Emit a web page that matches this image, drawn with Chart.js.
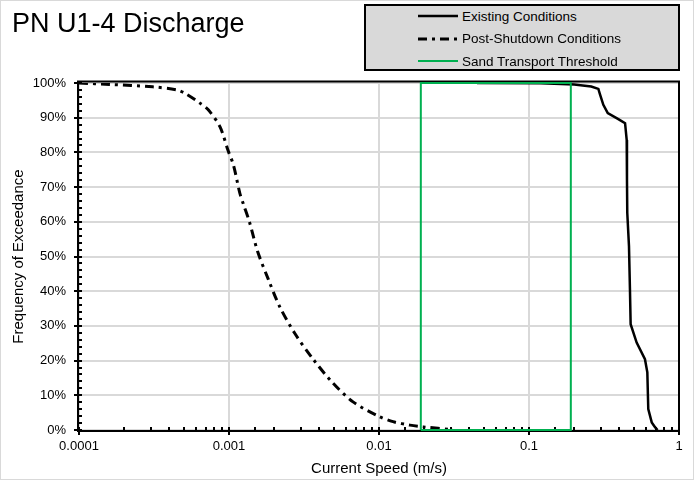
<!DOCTYPE html>
<html lang="en">
<head>
  <meta charset="UTF-8" />
  <title>PN U1-4 Discharge</title>
  <style>
    html, body {
      margin: 0;
      padding: 0;
      background: white;
      font-family: "Liberation Sans", Arial, sans-serif;
    }
    #wrap {
      position: relative;
      width: 694px;
      height: 480px;
    }
    #chart {
      position: absolute;
      left: 0;
      top: 0;
    }
    #frame {
      position: absolute;
      left: 0;
      top: 0;
      width: 694px;
      height: 480px;
      box-sizing: border-box;
      border: 1px solid #d9d9d9;
      pointer-events: none;
    }
    #title {
      position: absolute;
      left: 12px;
      top: 10px;
      font-size: 27px;
      line-height: 27px;
      color: #000;
      white-space: nowrap;
    }
    #legend {
      position: absolute;
      left: 364px;
      top: 4px;
      width: 316px;
      height: 67px;
      box-sizing: border-box;
      background: #d9d9d9;
      border: 2px solid #000;
    }
    #legend .row {
      position: absolute;
      left: 52px;
      height: 22px;
      display: flex;
      align-items: center;
      font-size: 13.5px;
      color: #000;
      white-space: nowrap;
    }
    #legend svg {
      margin-right: 4px;
    }
  </style>
  <script src="https://cdn.jsdelivr.net/npm/chart.js"></script>
</head>
<body>
  <div id="wrap">
    <canvas id="chart" width="694" height="480"></canvas>
    <div id="title">PN U1-4 Discharge</div>
    <div id="legend">
      <div class="row" style="top:-1px">
        <svg width="40" height="6"><line x1="0" y1="3" x2="40" y2="3" stroke="#000" stroke-width="2.5" /></svg>
        Existing Conditions
      </div>
      <div class="row" style="top:21.5px">
        <svg width="40" height="6"><line x1="0" y1="3" x2="40" y2="3" stroke="#000" stroke-width="3" stroke-dasharray="9,5,3,5" /></svg>
        Post-Shutdown Conditions
      </div>
      <div class="row" style="top:44px">
        <svg width="40" height="6"><line x1="0" y1="3" x2="40" y2="3" stroke="#00b050" stroke-width="2" /></svg>
        Sand Transport Threshold
      </div>
    </div>
    <div id="frame"></div>
  </div>

  <script>
    // speeds in m/s, frequency of exceedance in %
    const existingSpeed = [0.045, 0.12, 0.2, 0.26, 0.29, 0.297, 0.313, 0.335, 0.394, 0.437, 0.448, 0.45, 0.452, 0.464, 0.471, 0.476, 0.522, 0.593, 0.615, 0.624, 0.658, 0.692, 0.72];
    const existingFreq  = [100, 99.9, 99.6, 99.0, 98.3, 96.8, 93.7, 91.3, 89.6, 88.4, 83.6, 72, 62.6, 53, 40.5, 30.5, 25.2, 20.4, 16.6, 6, 2.2, 0.8, 0];

    const postSpeed = [0.0001, 0.00016, 0.00031, 0.00045, 0.00051, 0.00064, 0.00073, 0.00087, 0.00099, 0.00107, 0.00118, 0.00124, 0.00137, 0.00155, 0.00183, 0.00218, 0.00275, 0.00361, 0.00484, 0.00671, 0.01, 0.0124, 0.0161, 0.0197, 0.031];
    const postFreq  = [100, 99.6, 98.9, 98, 97, 94.2, 92.2, 87.4, 80.3, 76.4, 68.3, 65.4, 59.9, 51.5, 43.4, 35.5, 27.8, 20.6, 13.9, 8.1, 3.9, 2.4, 1.4, 0.9, 0.1];

    const thresholdSpeed = [0.019, 0.019, 0.19, 0.19, 0.019];
    const thresholdFreq  = [0, 100, 100, 0, 0];

    const xTickValues = [0.0001, 0.001, 0.01, 0.1, 1];
    const xTickLabels = ['0.0001', '0.001', '0.01', '0.1', '1'];

    function toPoints(xs, ys) {
      return xs.map((x, i) => ({ x: x, y: ys[i] }));
    }

    function decadeIndex(v) {
      const l = Math.log10(v);
      if (Math.abs(l - Math.round(l)) > 1e-6) return -1;
      return xTickValues.findIndex(t => Math.abs(Math.log10(t) - l) < 1e-6);
    }

    // Excel style ticks: major crossing the axis, minor inside, plus black frame.
    // Drawn under the series so the threshold box shows on top of the axes.
    const axisPlugin = {
      id: 'axisPlugin',
      beforeDatasetsDraw: (chart) => {
        const ctx = chart.ctx;
        const a = chart.chartArea;
        const xs = chart.scales.x;
        const ys = chart.scales.y;
        ctx.save();
        ctx.strokeStyle = '#000';
        ctx.lineWidth = 2;
        ctx.beginPath();
        xs.ticks.forEach(t => {
          const px = Math.round(xs.getPixelForValue(t.value));
          if (decadeIndex(t.value) >= 0) {
            ctx.moveTo(px, a.bottom - 3);
            ctx.lineTo(px, a.bottom + 5);
          } else {
            ctx.moveTo(px, a.bottom - 3);
            ctx.lineTo(px, a.bottom);
          }
        });
        ys.ticks.forEach(t => {
          const py = Math.round(ys.getPixelForValue(t.value));
          if (t.value % 10 === 0) {
            ctx.moveTo(a.left - 5, py);
            ctx.lineTo(a.left + 3, py);
          } else {
            ctx.moveTo(a.left, py);
            ctx.lineTo(a.left + 3, py);
          }
        });
        ctx.stroke();
        ctx.strokeRect(a.left - 1, a.top - 1.5, a.right - a.left + 1, a.bottom - a.top + 2.5);
        ctx.restore();
      }
    };

    Chart.defaults.font.family = '"Liberation Sans", Arial, sans-serif';
    Chart.defaults.color = '#000';

    const ctx = document.getElementById('chart').getContext('2d');
    new Chart(ctx, {
      type: 'scatter',
      data: {
        datasets: [
          {
            label: 'Sand Transport Threshold',
            data: toPoints(thresholdSpeed, thresholdFreq),
            showLine: true,
            borderColor: '#00b050',
            borderWidth: 2,
            pointRadius: 0,
            clip: false,
            fill: false
          },
          {
            label: 'Post-Shutdown Conditions',
            data: toPoints(postSpeed, postFreq),
            showLine: true,
            borderColor: '#000',
            borderWidth: 3,
            borderDash: [9, 5, 3, 5],
            pointRadius: 0,
            tension: 0.3,
            fill: false
          },
          {
            label: 'Existing Conditions',
            data: toPoints(existingSpeed, existingFreq),
            showLine: true,
            borderColor: '#000',
            borderWidth: 2.5,
            pointRadius: 0,
            tension: 0,
            fill: false
          }
        ]
      },
      options: {
        responsive: false,
        animation: false,
        events: [],
        layout: { padding: { top: 83, right: 15, left: 0, bottom: 0 } },
        plugins: {
          legend: { display: false },
          tooltip: { enabled: false },
          title: { display: false }
        },
        scales: {
          x: {
            type: 'logarithmic',
            min: 0.0001,
            max: 1,
            afterFit: (s) => { s.height = 50; },
            border: { display: false },
            grid: {
              drawTicks: false,
              lineWidth: 2,
              color: (c) => (c.tick && decadeIndex(c.tick.value) >= 0) ? '#d9d9d9' : 'rgba(0,0,0,0)'
            },
            ticks: {
              autoSkip: false,
              maxRotation: 0,
              padding: 9,
              font: { size: 13 },
              callback: (v) => {
                const i = decadeIndex(v);
                return i >= 0 ? xTickLabels[i] : '';
              }
            },
            title: {
              display: true,
              text: 'Current Speed (m/s)',
              font: { size: 15 },
              padding: { top: 0, bottom: 2 }
            }
          },
          y: {
            min: 0,
            max: 100,
            afterFit: (s) => { s.width = 79; },
            border: { display: false },
            grid: {
              drawTicks: false,
              lineWidth: 2,
              color: (c) => (c.tick && c.tick.value % 10 === 0) ? '#d9d9d9' : 'rgba(0,0,0,0)'
            },
            ticks: {
              stepSize: 2,
              maxTicksLimit: 60,
              autoSkip: false,
              padding: 13,
              font: { size: 13 },
              callback: (v) => v % 10 === 0 ? v + '%' : ''
            },
            title: {
              display: true,
              text: 'Frequency of Exceedance',
              font: { size: 15 },
              padding: { top: 10, bottom: 0 }
            }
          }
        }
      },
      plugins: [axisPlugin]
    });
  </script>
</body>
</html>
